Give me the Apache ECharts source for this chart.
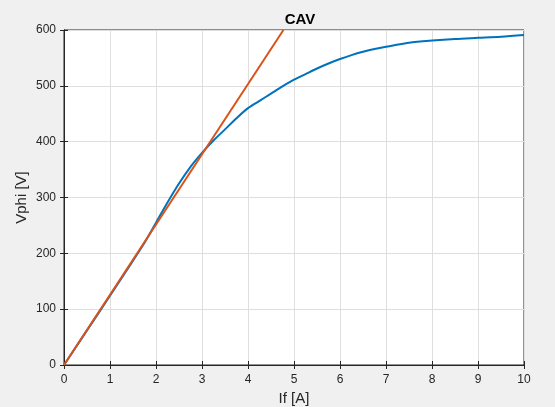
<!DOCTYPE html>
<html>
<head>
<meta charset="utf-8">
<script src="https://cdn.jsdelivr.net/npm/echarts@6/dist/echarts.min.js"></script>
<style>
html,body{margin:0;padding:0;background:#f0f0f0;}
#c{width:555px;height:407px;}
</style>
</head>
<body>
<div id="c"></div>
<script>
// Magnetization curve (blue): field current If [A] vs Vphi [V]
const ifValues = [0, 0.5, 1, 1.5, 1.75, 2.0, 2.25, 2.5, 2.75, 3.0, 3.25, 3.5, 3.75, 4.0, 4.25, 4.5, 4.75, 5.0, 5.25, 5.5, 5.75, 6.0, 6.25, 6.5, 6.75, 7.0, 7.5, 8.0, 8.5, 9.0, 9.5, 10.0];
const vphiValues = [0, 62, 124, 187, 219, 255, 291, 325, 355, 380, 402, 422, 442, 460, 473, 486, 499, 511, 521, 531, 540, 548, 555, 561, 566, 570, 577, 581, 584, 586, 588, 591];
// Air-gap line (orange)
const airIf = [0, 4.77];
const airV = [0, 600];
const xTicks = [0,1,2,3,4,5,6,7,8,9,10];
const yTicks = [0,100,200,300,400,500,600];

const chart = echarts.init(document.getElementById('c'));
const font = 'Liberation Sans, Arial, Helvetica, sans-serif';
const axColor = '#262626';
const baseAxis = {
  type: 'value',
  axisLine: {show: true, lineStyle: {color: axColor, width: 1}},
  axisTick: {show: true, inside: true, length: 4, lineStyle: {color: axColor}},
  axisLabel: {color: axColor, fontFamily: font, fontSize: 12},
  splitLine: {show: true, lineStyle: {color: '#dfdfdf', width: 1}}
};
chart.setOption({
  backgroundColor: '#f0f0f0',
  animation: false,
  title: {text: 'CAV', left: 295, textAlign: 'center', top: 7,
    textStyle: {fontFamily: font, fontSize: 15, fontWeight: 'bold', color: '#000'}},
  grid: {left: 64, right: 31, top: 30, bottom: 42, show: true, backgroundColor: '#fff',
    borderColor: axColor, borderWidth: 1, containLabel: false, outerBoundsMode: 'none'},
  xAxis: [
    Object.assign({}, baseAxis, {min: 0, max: 10, interval: 1, position: 'bottom',
      name: 'If [A]', nameLocation: 'middle', nameGap: 25,
      nameTextStyle: {fontFamily: font, fontSize: 15, color: axColor},
      axisLabel: {color: axColor, fontFamily: font, fontSize: 12, margin: 9,
        formatter: v => xTicks.includes(v) ? String(v) : ''}}),
    Object.assign({}, baseAxis, {min: 0, max: 10, interval: 1, position: 'top',
      axisLabel: {show: false}, splitLine: {show: false}})
  ],
  yAxis: [
    Object.assign({}, baseAxis, {min: 0, max: 600, interval: 100, position: 'left',
      name: 'Vphi [V]', nameLocation: 'middle', nameGap: 35, nameRotate: 90,
      nameMoveOverlap: false,
      nameTextStyle: {fontFamily: font, fontSize: 15, color: axColor},
      axisLabel: {color: axColor, fontFamily: font, fontSize: 12, margin: 8,
        formatter: v => yTicks.includes(v) ? String(v) : ''}}),
    Object.assign({}, baseAxis, {min: 0, max: 600, interval: 100, position: 'right',
      axisLabel: {show: false}, splitLine: {show: false}})
  ],
  series: [
    {type: 'line', xAxisIndex: 0, yAxisIndex: 0, showSymbol: false, smooth: 0.3,
      data: ifValues.map((x, i) => [x, vphiValues[i]]),
      lineStyle: {color: '#0072BD', width: 2}, itemStyle: {color: '#0072BD'}},
    {type: 'line', xAxisIndex: 0, yAxisIndex: 0, showSymbol: false,
      data: airIf.map((x, i) => [x, airV[i]]),
      lineStyle: {color: '#D95319', width: 2}, itemStyle: {color: '#D95319'}}
  ]
});
</script>
</body>
</html>
